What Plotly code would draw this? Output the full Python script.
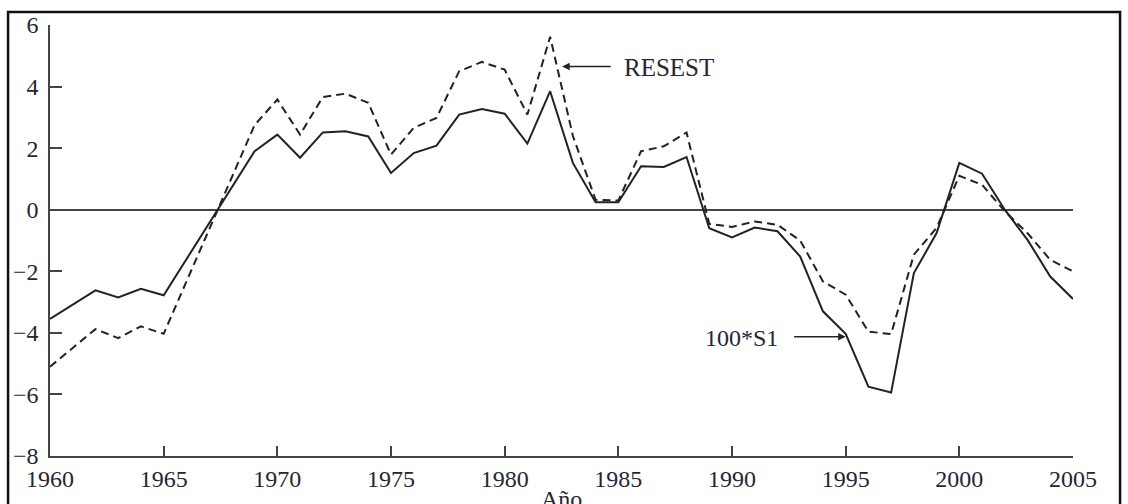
import plotly.graph_objects as go

years = list(range(1960, 2006))
s1_100 = [-3.55, -3.08, -2.62, -2.85, -2.57, -2.78, -1.60, -0.45, 0.72, 1.90,
          2.44, 1.69, 2.51, 2.55, 2.38, 1.19, 1.84, 2.08, 3.09, 3.27,
          3.12, 2.15, 3.85, 1.52, 0.24, 0.24, 1.41, 1.39, 1.71, -0.60,
          -0.90, -0.58, -0.70, -1.52, -3.30, -4.03, -5.75, -5.94, -2.06, -0.76,
          1.52, 1.17, 0.00, -0.98, -2.17, -2.90]
resest = [-5.10, -4.49, -3.88, -4.17, -3.79, -4.03, -2.34, -0.64, 1.06, 2.75,
          3.58, 2.44, 3.66, 3.77, 3.47, 1.79, 2.66, 2.98, 4.50, 4.80,
          4.55, 3.09, 5.62, 2.40, 0.32, 0.30, 1.90, 2.06, 2.51, -0.46,
          -0.56, -0.38, -0.49, -1.00, -2.33, -2.76, -3.96, -4.04, -1.46, -0.59,
          1.10, 0.81, -0.05, -0.76, -1.63, -2.00]
x_ticks = [1960, 1965, 1970, 1975, 1980, 1985, 1990, 1995, 2000, 2005]
y_ticks = [-8, -6, -4, -2, 0, 2, 4, 6]

ink = "#222222"
axc = "#444444"
txt = "#262633"
serif = "Liberation Serif"

fig = go.Figure()
fig.add_trace(go.Scatter(x=years, y=resest, mode="lines", name="RESEST",
                         line=dict(color=ink, width=2, dash="8px,5px")))
fig.add_trace(go.Scatter(x=years, y=s1_100, mode="lines", name="100*S1",
                         line=dict(color=ink, width=2)))

fig.update_layout(
    width=1128, height=504,
    margin=dict(l=50, r=55, t=25, b=48),
    paper_bgcolor="white", plot_bgcolor="white",
    showlegend=False,
    font=dict(family=serif, size=24, color=txt),
)
fig.update_xaxes(range=[1960, 2005], tickvals=x_ticks, ticks="inside", ticklen=10,
                 tickwidth=1.5, tickcolor=axc, showline=True, linecolor=axc, linewidth=1.5,
                 showgrid=False, zeroline=False, mirror=False,
                 tickfont=dict(family=serif, size=24, color=txt))
fig.update_yaxes(range=[-8, 6], tickvals=y_ticks, ticks="inside", ticklen=12,
                 tickwidth=1.5, tickcolor=axc, showline=True, linecolor=axc, linewidth=1.5,
                 showgrid=False, zeroline=True, zerolinecolor=axc, zerolinewidth=1.5,
                 ticklabelstandoff=5,
                 tickfont=dict(family=serif, size=24, color=txt))

# outer frame
fig.add_shape(type="rect", xref="paper", yref="paper",
              x0=-0.041, x1=1.046, y0=-0.3, y1=1.03,
              line=dict(color="#111111", width=2.5), layer="above")

# arrows
fig.add_annotation(x=1982.53, y=4.65, xref="x", yref="y", text="", showarrow=True,
                   ax=50, ay=0, arrowhead=2, arrowsize=1, arrowwidth=1.5, arrowcolor=ink)
fig.add_annotation(x=1995.0, y=-4.13, xref="x", yref="y", text="", showarrow=True,
                   ax=-53, ay=0, arrowhead=2, arrowsize=1, arrowwidth=1.5, arrowcolor=ink)
fig.add_annotation(x=1985.15, y=4.62, xref="x", yref="y", text="RESEST", showarrow=False,
                   xanchor="left", yanchor="middle",
                   font=dict(family=serif, size=25, color=txt))
fig.add_annotation(x=1992.12, y=-4.18, xref="x", yref="y", text="100*S1", showarrow=False,
                   xanchor="right", yanchor="middle",
                   font=dict(family=serif, size=24, color=txt))
fig.add_annotation(x=0.5, y=-0.065, xref="paper", yref="paper", text="Año", showarrow=False,
                   xanchor="center", yanchor="top",
                   font=dict(family=serif, size=24, color=txt))

fig.write_html("out.html")
